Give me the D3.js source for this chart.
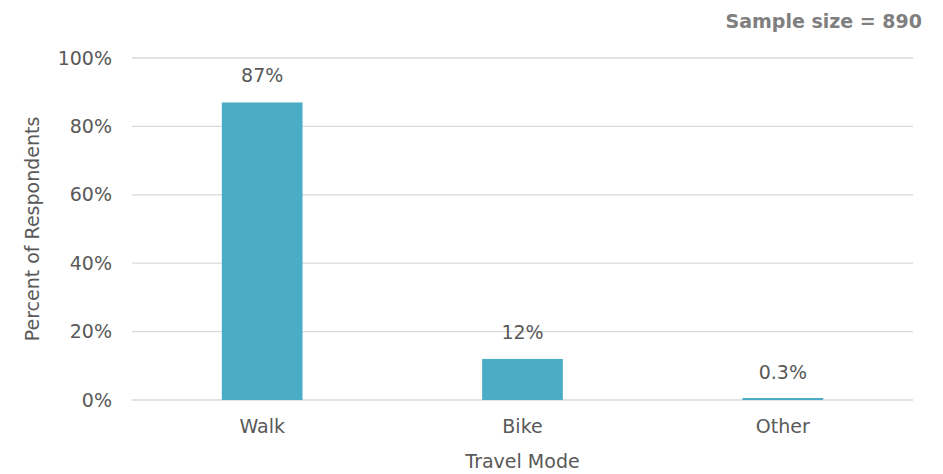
<!DOCTYPE html>
<html>
<head>
<meta charset="utf-8">
<script src="https://cdn.jsdelivr.net/npm/d3@7"></script>
<style>
  body { margin: 0; background: #fff; }
  text { font-family: "DejaVu Sans", sans-serif; fill: #595959; }
</style>
</head>
<body>
<svg id="chart" width="943" height="474"></svg>
<script>
// chart data
var modes = ["Walk", "Bike", "Other"];
var shares = [87, 12, 0.3];
var shareLabels = ["87%", "12%", "0.3%"];
var yTicks = [0, 20, 40, 60, 80, 100];

var svg = d3.select("#chart");
var margin = { left: 132, right: 30, top: 58, bottom: 74 };
var width = 943 - margin.left - margin.right;
var height = 474 - margin.top - margin.bottom;

var x = d3.scaleBand()
    .domain(modes)
    .range([0, width])
    .paddingInner(0.69)
    .paddingOuter(0.345);

var y = d3.scaleLinear()
    .domain([0, 100])
    .range([height, 0]);

var g = svg.append("g")
    .attr("transform", "translate(" + margin.left + "," + margin.top + ")");

// gridlines
g.selectAll("line.grid").data(yTicks).enter().append("line")
    .attr("class", "grid")
    .attr("x1", 0)
    .attr("x2", width)
    .attr("y1", function(d) { return y(d); })
    .attr("y2", function(d) { return y(d); })
    .attr("stroke", "#d9d9d9")
    .attr("stroke-width", 1.3);

// y axis labels
var yAxis = d3.axisLeft(y)
    .tickValues(yTicks)
    .tickSize(0)
    .tickPadding(20)
    .tickFormat(function(d) { return d + "%"; });
var ya = g.append("g").call(yAxis);
ya.select(".domain").remove();
ya.selectAll("text")
    .style("font-size", "19px")
    .attr("fill", "#595959")
    .style("font-family", "DejaVu Sans, sans-serif");

// bars (keep tiny values visible)
g.selectAll("rect.bar").data(shares).enter().append("rect")
    .attr("class", "bar")
    .attr("x", function(d, i) { return x(modes[i]); })
    .attr("width", x.bandwidth())
    .attr("y", function(d) { return Math.min(y(d), height - 2); })
    .attr("height", function(d) { return Math.max(height - y(d), 2); })
    .attr("fill", "#4bacc6");

// value labels
g.selectAll("text.val").data(shares).enter().append("text")
    .attr("class", "val")
    .attr("x", function(d, i) { return x(modes[i]) + x.bandwidth() / 2; })
    .attr("y", function(d) { return y(d) - 20; })
    .attr("text-anchor", "middle")
    .style("font-size", "19px")
    .text(function(d, i) { return shareLabels[i]; });

// x axis labels
var xAxis = d3.axisBottom(x).tickSize(0).tickPadding(20);
var xa = g.append("g")
    .attr("transform", "translate(0," + height + ")")
    .call(xAxis);
xa.select(".domain").remove();
xa.selectAll("text")
    .style("font-size", "19px")
    .attr("fill", "#595959")
    .style("font-family", "DejaVu Sans, sans-serif");

// axis titles
svg.append("text")
    .attr("x", margin.left + width / 2)
    .attr("y", 468)
    .attr("text-anchor", "middle")
    .style("font-size", "19px")
    .text("Travel Mode");

svg.append("text")
    .attr("transform", "translate(39," + (margin.top + height / 2) + ") rotate(-90)")
    .attr("text-anchor", "middle")
    .style("font-size", "19px")
    .text("Percent of Respondents");

// sample size note
svg.append("text")
    .attr("x", 922)
    .attr("y", 28)
    .attr("text-anchor", "end")
    .style("font-size", "19px")
    .style("font-weight", "bold")
    .style("fill", "#7f7f7f")
    .text("Sample size = 890");
</script>
</body>
</html>
